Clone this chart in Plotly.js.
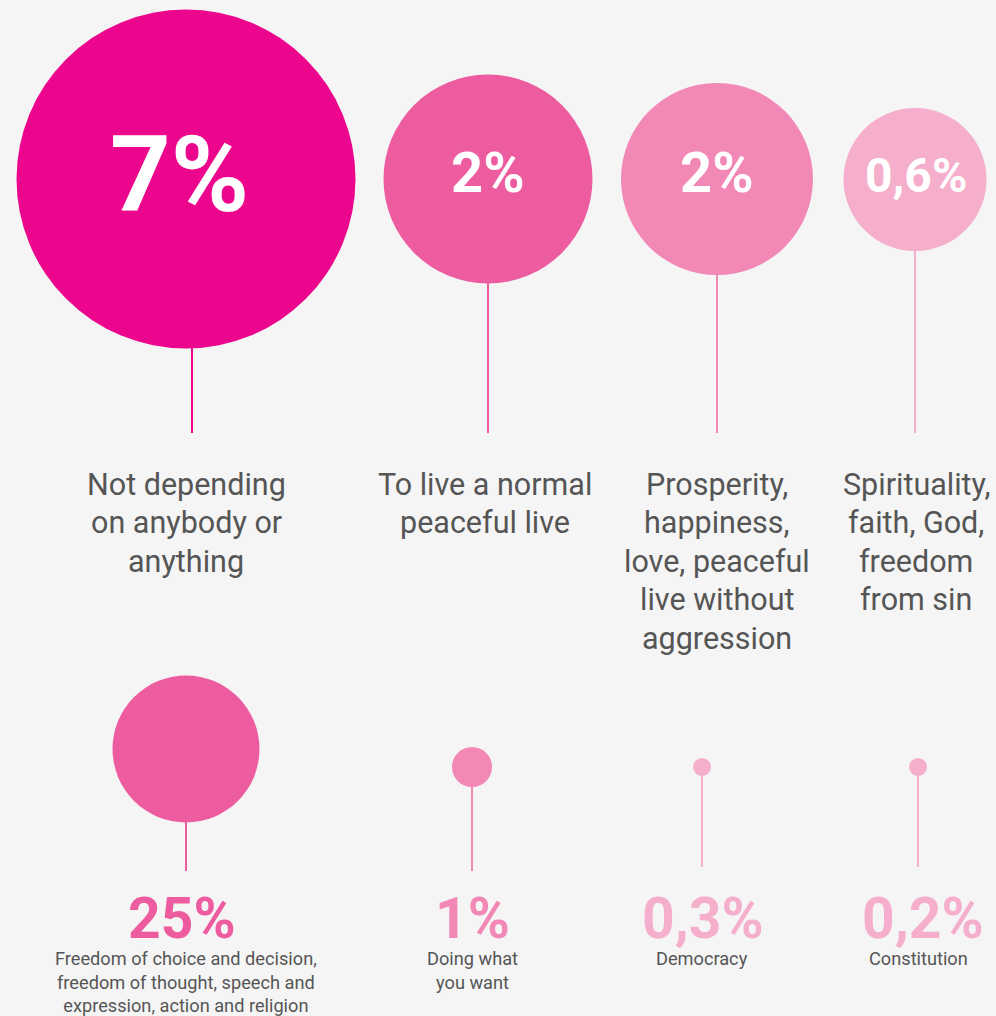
<!DOCTYPE html>
<html>
<head>
<meta charset="utf-8">
<script src="https://cdn.plot.ly/plotly-3.0.1.min.js"></script>
<style>
  html, body { margin: 0; padding: 0; background: #f5f5f5; }
  #chart { width: 996px; height: 1016px; }
</style>
</head>
<body>
<div id="chart"></div>
<script>
// ---------- DATA ----------
const topCategories = [
  "Not depending<br>on anybody or<br>anything",
  "To live a normal<br>peaceful live",
  "Prosperity,<br>happiness,<br>love, peaceful<br>live without<br>aggression",
  "Spirituality,<br>faith, God,<br>freedom<br>from sin"
];
const topValues = [7, 2, 2, 0.6];
const topValueLabels = ["7%", "2%", "2%", "0,6%"];

const bottomCategories = [
  "Freedom of choice and decision,<br>freedom of thought, speech and<br>expression, action and religion",
  "Doing what<br>you want",
  "Democracy",
  "Constitution"
];
const bottomValues = [25, 1, 0.3, 0.2];
const bottomValueLabels = ["25%", "1%", "0,3%", "0,2%"];

// ---------- LAYOUT / STYLE (positions & sizes, not data) ----------
const W = 996, H = 1016;
const topX = [186, 488, 717, 915];
const topStemX = [192, 488, 717, 915];
const topCY = [179, 179, 179, 179.5];
const topDiam = [339, 209, 192, 143];
const topStemEnd = 433;
const topColors = ["#ec058d", "#ee5ca0", "#f288b5", "#f5aecb"];
const topValueFont = [106, 56, 56, 48];
const topValueDX = [-7, 0, 0, 1];
const topValueDY = [-4, -6, -6, -4];
const topLabelX = [186, 485, 717, 916];
const topLabelFirstLineY = 484;
const topLabelLineStep = 38.5;

const bottomX = [186, 472, 702, 918];
const bottomCY = [749, 767, 767, 767];
const bottomDiam = [147, 40, 18, 18];
const bottomStemEnd = [871, 871, 867, 867];
const bottomColors = ["#ee5ca0", "#f288b5", "#f5aecb", "#f5aecb"];
const bottomValueX = [182, 472, 703, 923];

const textGray = "#555555";

// ---------- TRACES ----------
const traces = [];

function stem(x, y0, y1, color) {
  traces.push({
    type: "scatter", mode: "lines",
    x: [x, x], y: [y0, y1],
    line: { color: color, width: 2 },
    hoverinfo: "skip", showlegend: false
  });
}
topCategories.forEach((c, i) => stem(topStemX[i], topCY[i], topStemEnd, topColors[i]));
bottomCategories.forEach((c, i) => stem(bottomX[i], bottomCY[i], bottomStemEnd[i], bottomColors[i]));

traces.push({
  type: "scatter", mode: "markers",
  x: topX, y: topCY,
  customdata: topValues, text: topCategories,
  marker: { size: topDiam, color: topColors, line: { width: 0 }, opacity: 1 },
  hoverinfo: "skip", showlegend: false
});
traces.push({
  type: "scatter", mode: "markers",
  x: bottomX, y: bottomCY,
  customdata: bottomValues, text: bottomCategories,
  marker: { size: bottomDiam, color: bottomColors, line: { width: 0 }, opacity: 1 },
  hoverinfo: "skip", showlegend: false
});

// ---------- ANNOTATIONS ----------
const annotations = [];
topValueLabels.forEach((t, i) => {
  annotations.push({
    x: topX[i] + topValueDX[i], y: topCY[i] + topValueDY[i], xref: "x", yref: "y",
    text: t, showarrow: false, xanchor: "center", yanchor: "middle",
    font: { family: "Roboto", size: topValueFont[i], color: "#ffffff", weight: 700 }
  });
});
topCategories.forEach((t, i) => {
  t.split("<br>").forEach((line, k) => {
    annotations.push({
      x: topLabelX[i], y: topLabelFirstLineY + k * topLabelLineStep, xref: "x", yref: "y",
      text: line, showarrow: false, xanchor: "center", yanchor: "middle", align: "center",
      font: { family: "Roboto", size: 30.5, color: textGray }
    });
  });
});
bottomValueLabels.forEach((t, i) => {
  annotations.push({
    x: bottomValueX[i], y: 918, xref: "x", yref: "y",
    text: t, showarrow: false, xanchor: "center", yanchor: "middle",
    font: { family: "Roboto", size: 57, color: bottomColors[i], weight: 700 }
  });
});
bottomCategories.forEach((t, i) => {
  annotations.push({
    x: bottomX[i], y: 946, xref: "x", yref: "y",
    text: t, showarrow: false, xanchor: "center", yanchor: "top", align: "center",
    font: { family: "Roboto", size: 18.2, color: textGray }
  });
});

const layout = {
  width: W, height: H,
  margin: { l: 0, r: 0, t: 0, b: 0, pad: 0 },
  paper_bgcolor: "#f5f5f5", plot_bgcolor: "#f5f5f5",
  xaxis: { range: [0, W], visible: false, fixedrange: true },
  yaxis: { range: [H, 0], visible: false, fixedrange: true },
  annotations: annotations,
  showlegend: false
};

Plotly.newPlot("chart", traces, layout, { displayModeBar: false, staticPlot: true });
</script>
</body>
</html>
